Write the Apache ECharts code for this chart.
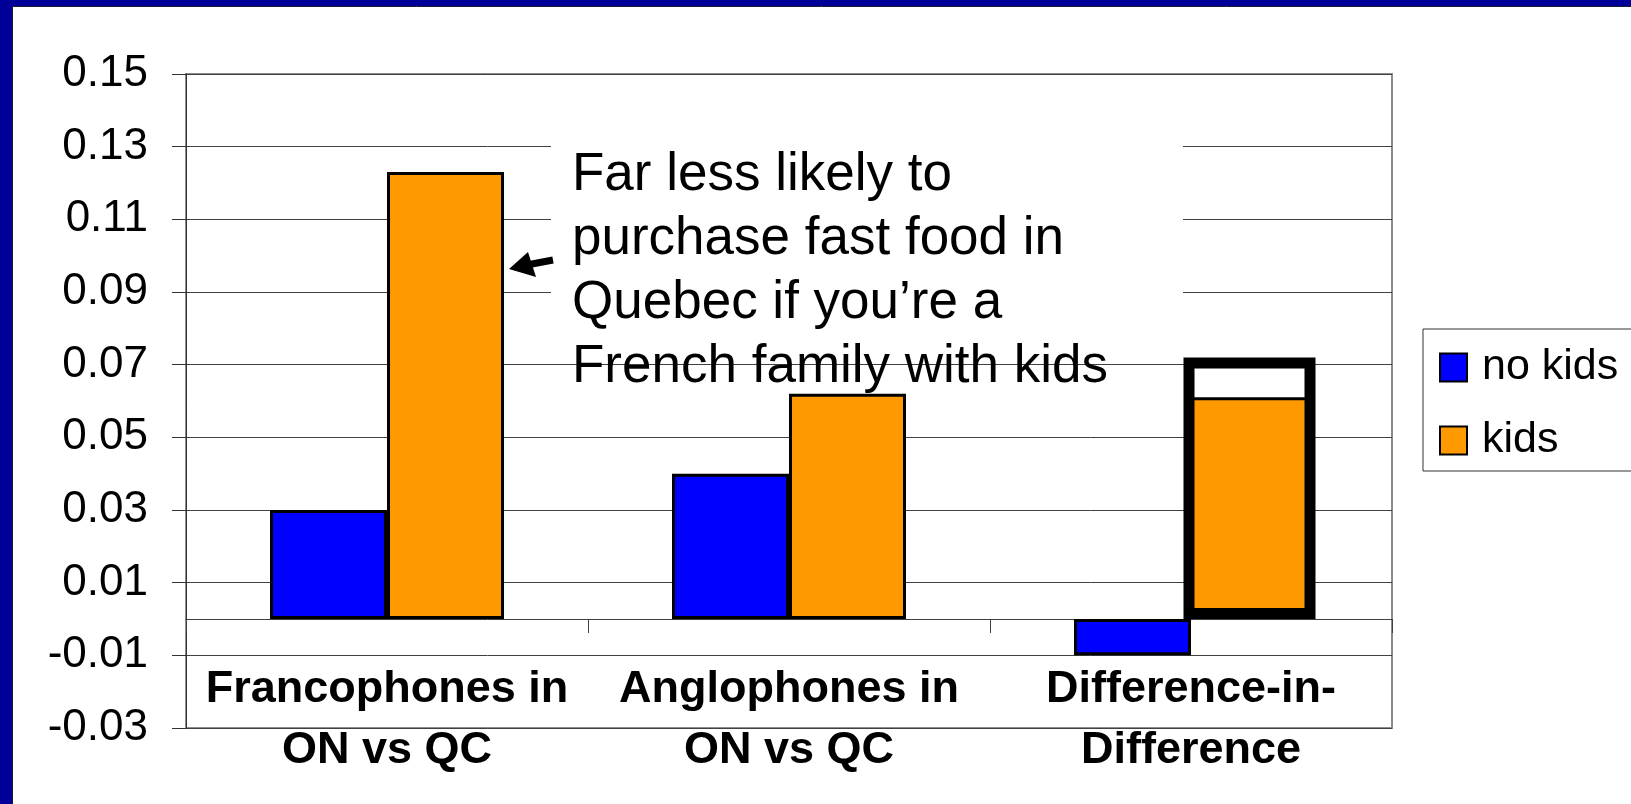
<!DOCTYPE html>
<html>
<head>
<meta charset="utf-8">
<script src="https://cdn.jsdelivr.net/npm/echarts@6/dist/echarts.min.js"></script>
<style>
html, body { margin: 0; padding: 0; background: #ffffff; }
#chart { width: 1631px; height: 804px; }
</style>
</head>
<body>
<div id="chart"></div>
<script>
// ---- data ----
var categories = ['Francophones in\nON vs QC', 'Anglophones in\nON vs QC', 'Difference-in-\nDifference'];
var noKids = [0.030, 0.040, -0.010];
var kids = [0.123, 0.062, 0.061];
var highlightBox = [null, null, 0.072];
var spacer = [null, null, null];
var seriesNames = ['no kids', 'kids'];
var annotationText = 'Far less likely to\npurchase fast food in\nQuebec if you\u2019re a\nFrench family with kids';

var FONT = '"Liberation Sans", Arial, Helvetica, sans-serif';
var chart = echarts.init(document.getElementById('chart'), null, { renderer: 'canvas' });

var option = {
  backgroundColor: '#ffffff',
  animation: false,
  textStyle: { fontFamily: FONT },
  grid: {
    left: 186, top: 74, width: 1206, height: 654,
    show: true, borderColor: '#8c8c8c', borderWidth: 2, backgroundColor: '#ffffff',
    containLabel: false
  },
  legend: {
    data: seriesNames,
    orient: 'vertical',
    left: 1423, top: 329,
    padding: [17, 40, 9, 16],
    itemWidth: 27, itemHeight: 28, itemGap: 30,
    backgroundColor: '#ffffff',
    borderColor: '#333333', borderWidth: 1,
    icon: 'rect',
    itemStyle: { borderColor: '#000000', borderWidth: 2 },
    textStyle: { fontFamily: FONT, fontSize: 43, color: '#000000', padding: [0, 0, 0, 10] }
  },
  xAxis: [
    {
      type: 'category', data: categories, gridIndex: 0,
      axisLine: { show: true, onZero: true, lineStyle: { color: '#404040', width: 1 } },
      axisTick: { show: true, interval: 0, length: 14, inside: false, lineStyle: { color: '#404040', width: 1 } },
      axisLabel: { show: false },
      splitLine: { show: false }
    },
    {
      type: 'category', data: categories, gridIndex: 0, position: 'bottom', offset: -70,
      axisLine: { show: false, onZero: false },
      axisTick: { show: false },
      axisLabel: {
        show: true, interval: 0, margin: 1,
        fontFamily: FONT, fontSize: 45, fontWeight: 'bold', color: '#000000', lineHeight: 61
      },
      splitLine: { show: false }
    }
  ],
  yAxis: {
    type: 'value', min: -0.03, max: 0.15, interval: 0.02,
    axisLine: { show: true, lineStyle: { color: '#333333', width: 1 } },
    axisTick: { show: true, length: 14, inside: false, lineStyle: { color: '#333333', width: 1 } },
    axisLabel: {
      margin: 38, fontFamily: FONT, fontSize: 44, color: '#000000',
      formatter: function (v) { return (Math.round(v * 100) / 100).toFixed(2); }
    },
    splitLine: { show: true, lineStyle: { color: '#404040', width: 1 } }
  },
  series: [
    {
      name: seriesNames[0], type: 'bar', xAxisIndex: 0, data: noKids,
      barWidth: 117, barGap: '0%',
      itemStyle: { color: '#0000ff', borderColor: '#000000', borderWidth: 3 }
    },
    {
      name: seriesNames[1], type: 'bar', xAxisIndex: 0, data: kids,
      barWidth: 117, barGap: '0%',
      itemStyle: { color: '#ff9900', borderColor: '#000000', borderWidth: 3 }
    },
    {
      name: '_spacer', type: 'bar', xAxisIndex: 1, data: spacer,
      barWidth: 117, barGap: '0%', silent: true,
      itemStyle: { color: 'transparent' }
    },
    {
      name: '_highlight', type: 'bar', xAxisIndex: 1, data: highlightBox,
      barWidth: 132, barGap: '0%', silent: true, z: 5,
      itemStyle: { color: 'transparent', borderColor: '#000000', borderWidth: 11 }
    }
  ],
  graphic: [
    // white backing for annotation text (interrupts gridlines)
    { type: 'rect', z: 1, shape: { x: 551, y: 128, width: 632, height: 208 }, style: { fill: '#ffffff' } },
    {
      type: 'text', z: 10, x: 572, y: 143,
      style: {
        text: annotationText, font: '53px ' + FONT, fill: '#000000',
        lineHeight: 64, verticalAlign: 'top', align: 'left'
      }
    },
    // arrow
    { type: 'line', z: 10, shape: { x1: 553, y1: 260, x2: 524, y2: 265.5 }, style: { stroke: '#000000', lineWidth: 7 } },
    { type: 'polygon', z: 10, shape: { points: [[509, 269], [528, 252], [536, 277]] }, style: { fill: '#000000' } },
    // slide frame
    { type: 'rect', z: 100, shape: { x: 0, y: 0, width: 1631, height: 6 }, style: { fill: '#000099' } },
    { type: 'rect', z: 100, shape: { x: 0, y: 0, width: 12, height: 804 }, style: { fill: '#000099' } },
    { type: 'line', z: 100, shape: { x1: 12, y1: 6.5, x2: 1631, y2: 6.5 }, style: { stroke: '#1a1a33', lineWidth: 1 } },
    { type: 'line', z: 100, shape: { x1: 12.5, y1: 6, x2: 12.5, y2: 804 }, style: { stroke: '#1a1a33', lineWidth: 1 } }
  ]
};
chart.setOption(option);
</script>
</body>
</html>
